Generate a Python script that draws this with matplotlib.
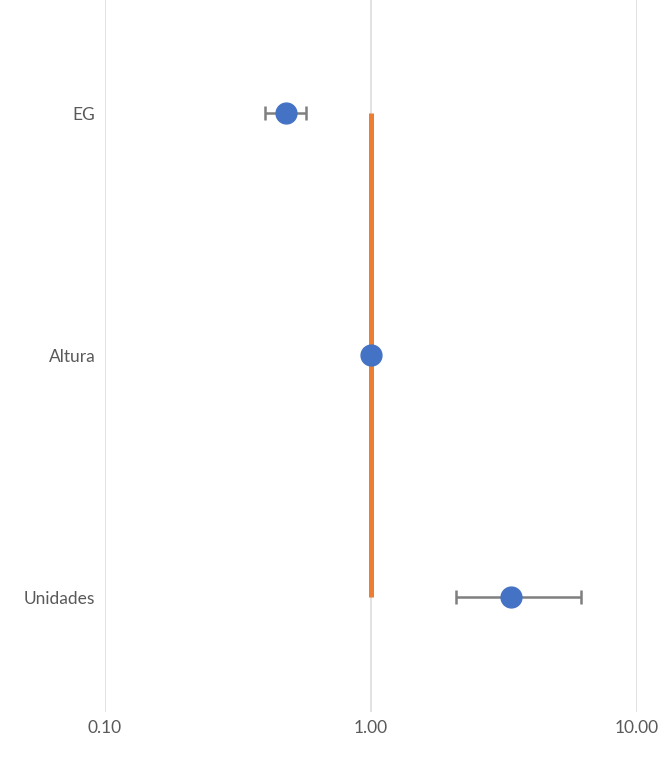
import matplotlib.pyplot as plt
import numpy as np

labels = ['EG', 'Altura', 'Unidades']
odds = np.array([0.48, 1.00, 3.35])
ci_low = np.array([0.40, 1.00, 2.08])
ci_high = np.array([0.57, 1.00, 6.15])
ref_value = 1.0
xticks = [0.1, 1, 10]
xtick_labels = ['0.10', '1.00', '10.00']

plt.rcParams['font.family'] = ['Lato', 'DejaVu Sans']

fig = plt.figure(figsize=(6.62, 7.82), dpi=100)
ax = fig.add_axes([105/662, 70/782, (637-105)/662, 712/782])

ypos = np.arange(len(labels))[::-1] + 1

ax.plot([ref_value, ref_value], [ypos.min(), ypos.max()],
        color='#ED7D31', linewidth=3.6, solid_capstyle='butt', zorder=2)

ax.errorbar(odds, ypos,
            xerr=[odds - ci_low, ci_high - odds],
            fmt='o', markersize=15,
            markerfacecolor='#4472C4', markeredgecolor='#4472C4',
            ecolor='#7F7F7F', elinewidth=1.8, capsize=5, capthick=1.8,
            zorder=3)

ax.set_xscale('log')
ax.set_xlim(0.1, 10)
ax.set_ylim(0.525, 3.467)
ax.set_xticks(xticks)
ax.set_xticklabels(xtick_labels)
ax.minorticks_off()
ax.set_yticks(ypos)
ax.set_yticklabels(labels)

ax.grid(axis='x', color='#DDDDDD', linewidth=1.2)
ax.set_axisbelow(True)
for s in ax.spines.values():
    s.set_visible(False)

ax.tick_params(axis='both', length=0, labelsize=12.5, colors='#595959')
ax.tick_params(axis='x', pad=6)
ax.tick_params(axis='y', pad=7)

fig.savefig('out.png', dpi=100)
